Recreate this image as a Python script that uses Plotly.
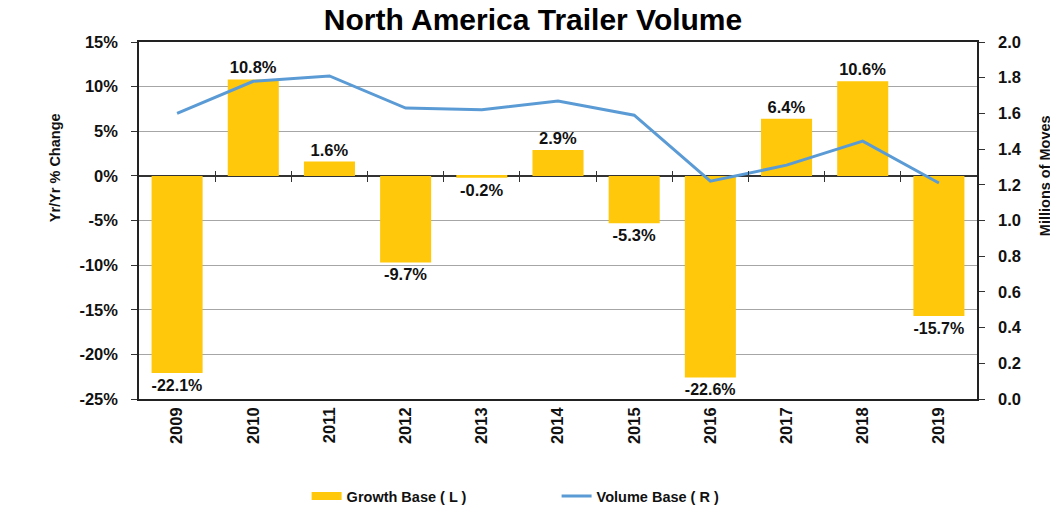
import plotly.graph_objects as go

years = ["2009", "2010", "2011", "2012", "2013", "2014", "2015", "2016", "2017", "2018", "2019"]
growth = [-22.1, 10.8, 1.6, -9.7, -0.2, 2.9, -5.3, -22.6, 6.4, 10.6, -15.7]
volume = [1.60, 1.78, 1.81, 1.63, 1.62, 1.67, 1.59, 1.22, 1.31, 1.445, 1.21]
growth_labels = [f"<b>{v:.1f}%</b>" for v in growth]
left_ticks = [-25, -20, -15, -10, -5, 0, 5, 10, 15]
right_ticks = [0.0, 0.2, 0.4, 0.6, 0.8, 1.0, 1.2, 1.4, 1.6, 1.8, 2.0]
boundaries = [0.5, 1.5, 2.5, 3.5, 4.5, 5.5, 6.5, 7.5, 8.5, 9.5]

FONT = "Liberation Sans, Arial, sans-serif"
BAR_COLOR = "#FFC80A"
LINE_COLOR = "#5B9BD5"

fig = go.Figure()
fig.add_trace(go.Bar(
    x=years, y=growth, name="Growth Base ( L )", showlegend=False,
    marker=dict(color=BAR_COLOR, line=dict(width=0)),
    width=0.67,
    text=growth_labels, textposition="outside",
    textfont=dict(family=FONT, size=16.5, color="#111111"),
    cliponaxis=False,
))
# legend proxy for the bar series (short thick bar symbol as in the original)
fig.add_trace(go.Scatter(
    x=[None], y=[None], name="<b>Growth Base ( L )</b>", mode="lines",
    line=dict(color=BAR_COLOR, width=8), hoverinfo="skip",
))
fig.add_trace(go.Scatter(
    x=years, y=volume, name="<b>Volume Base ( R )</b>", yaxis="y2",
    mode="lines", line=dict(color=LINE_COLOR, width=3),
))
for ax in ("x2", "x3"):
    fig.add_trace(go.Scatter(x=[0], y=[0], xaxis=ax, mode="markers",
                             marker=dict(opacity=0), showlegend=False, hoverinfo="skip"))

tick_axis = dict(
    type="linear", overlaying="x", anchor="free", position=0.625, range=[-0.5, 10.5],
    tickvals=boundaries, ticklen=5, tickwidth=1, tickcolor="#333333",
    showticklabels=False, showline=False, showgrid=False, zeroline=False, side="bottom",
)

fig.update_layout(
    width=1050, height=502,
    margin=dict(l=131, r=81, t=34, b=111, autoexpand=False),
    paper_bgcolor="white", plot_bgcolor="white",
    font=dict(family=FONT, color="#111111"),
    title=dict(text="<b>North America Trailer Volume</b>", x=0.5, xanchor="center",
               yref="container", y=0.978, yanchor="middle",
               font=dict(size=30, family=FONT, color="#000000")),
    showlegend=True,
    legend=dict(orientation="h", x=0.2, xanchor="left", y=-0.272, yanchor="middle",
                font=dict(size=14.5, family=FONT), entrywidth=205, itemwidth=30),
    xaxis=dict(
        type="category", showline=True, linecolor="#222222", linewidth=1.5, mirror=True,
        ticks="", tickangle=-90, tickfont=dict(size=16.5, family=FONT),
        tickprefix="<b>", ticksuffix="</b>", showgrid=False,
    ),
    xaxis2=dict(tick_axis, ticks="outside"),
    xaxis3=dict(tick_axis, ticks="inside"),
    yaxis=dict(
        range=[-25, 15], tickvals=left_ticks,
        ticktext=[f"<b>{v}%</b>" for v in left_ticks],
        tickfont=dict(size=16.5, family=FONT),
        showgrid=True, gridcolor="#A6A6A6", gridwidth=1,
        zeroline=True, zerolinecolor="#333333", zerolinewidth=1.5,
        showline=True, linecolor="#222222", linewidth=1.5,
        ticks="outside", ticklen=6, tickcolor="#333333", ticklabelstandoff=10,
    ),
    yaxis2=dict(
        range=[0, 2.0], tickvals=right_ticks,
        ticktext=[f"<b>{v:.1f}</b>" for v in right_ticks],
        tickfont=dict(size=16.5, family=FONT),
        overlaying="y", side="right", showgrid=False, zeroline=False,
        showline=True, linecolor="#222222", linewidth=1.5,
        ticks="outside", ticklen=6, tickcolor="#333333", ticklabelstandoff=10,
    ),
    annotations=[
        dict(text="<b>Yr/Yr % Change</b>", textangle=-90, xref="paper", yref="paper",
             x=-0.100, y=0.647, xanchor="center", yanchor="middle", showarrow=False,
             font=dict(size=14.5, family=FONT, color="#111111")),
        dict(text="<b>Millions of Moves</b>", textangle=-90, xref="paper", yref="paper",
             x=1.0815, y=0.625, xanchor="center", yanchor="middle", showarrow=False,
             font=dict(size=14.5, family=FONT, color="#111111")),
    ],
)

fig.write_html("out.html")
